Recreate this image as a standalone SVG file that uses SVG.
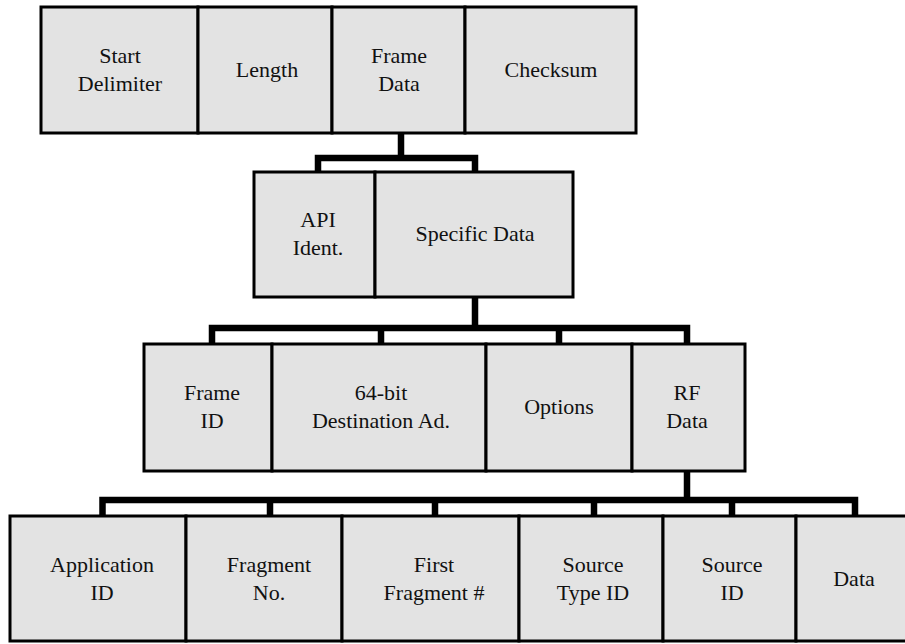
<svg xmlns="http://www.w3.org/2000/svg" width="905" height="644" viewBox="0 0 905 644">
  <style>
    .cell { fill: #e3e3e3; stroke: #000; stroke-width: 3; }
    .link { stroke: #000; stroke-width: 6.5; fill: none; stroke-linejoin: miter; stroke-linecap: butt; }
    .lbl { font-family: 'Liberation Serif', 'Times New Roman', serif; font-size: 22px; fill: #111; text-anchor: middle; }
  </style>
  <rect width="905" height="644" fill="#fff"/>

  <!-- connectors -->
  <g id="connectors">
    <path class="link" d="M401,134 V158 M318,171 V158 H475 V171"/>
    <path class="link" d="M475,298 V328 M212,343 V328 H687 V343 M381,328 V343 M559,328 V343"/>
    <path class="link" d="M687,472 V500 M102.5,515 V500 H855 V515 M270,500 V515 M435,500 V515 M594,500 V515 M732,500 V515"/>
  </g>

  <!-- level 1: API frame -->
  <g id="start-delimiter">
    <rect class="cell" x="41" y="7" width="157" height="126"/>
    <text class="lbl" x="120" y="63">Start</text>
    <text class="lbl" x="120" y="91">Delimiter</text>
  </g>
  <g id="length">
    <rect class="cell" x="198" y="7" width="134" height="126"/>
    <text class="lbl" x="267" y="77">Length</text>
  </g>
  <g id="frame-data">
    <rect class="cell" x="332" y="7" width="133" height="126"/>
    <text class="lbl" x="399" y="63">Frame</text>
    <text class="lbl" x="399" y="91">Data</text>
  </g>
  <g id="checksum">
    <rect class="cell" x="465" y="7" width="171" height="126"/>
    <text class="lbl" x="551" y="77">Checksum</text>
  </g>

  <!-- level 2: frame data -->
  <g id="api-ident">
    <rect class="cell" x="254" y="172" width="121" height="125"/>
    <text class="lbl" x="318" y="227">API</text>
    <text class="lbl" x="318" y="255">Ident.</text>
  </g>
  <g id="specific-data">
    <rect class="cell" x="375" y="172" width="198" height="125"/>
    <text class="lbl" x="475" y="241">Specific Data</text>
  </g>

  <!-- level 3: specific data -->
  <g id="frame-id">
    <rect class="cell" x="144" y="344" width="128" height="127"/>
    <text class="lbl" x="212" y="400">Frame</text>
    <text class="lbl" x="212" y="428">ID</text>
  </g>
  <g id="dest-address">
    <rect class="cell" x="272" y="344" width="214" height="127"/>
    <text class="lbl" x="381" y="400">64-bit</text>
    <text class="lbl" x="381" y="428">Destination Ad.</text>
  </g>
  <g id="options">
    <rect class="cell" x="486" y="344" width="146" height="127"/>
    <text class="lbl" x="559" y="414">Options</text>
  </g>
  <g id="rf-data">
    <rect class="cell" x="632" y="344" width="113" height="127"/>
    <text class="lbl" x="687" y="400">RF</text>
    <text class="lbl" x="687" y="428">Data</text>
  </g>

  <!-- level 4: RF data -->
  <g id="application-id">
    <rect class="cell" x="10" y="516" width="176" height="125"/>
    <text class="lbl" x="102" y="572">Application</text>
    <text class="lbl" x="102" y="600">ID</text>
  </g>
  <g id="fragment-no">
    <rect class="cell" x="186" y="516" width="156" height="125"/>
    <text class="lbl" x="269" y="572">Fragment</text>
    <text class="lbl" x="269" y="600">No.</text>
  </g>
  <g id="first-fragment">
    <rect class="cell" x="342" y="516" width="177" height="125"/>
    <text class="lbl" x="434" y="572">First</text>
    <text class="lbl" x="434" y="600">Fragment #</text>
  </g>
  <g id="source-type-id">
    <rect class="cell" x="519" y="516" width="144" height="125"/>
    <text class="lbl" x="593" y="572">Source</text>
    <text class="lbl" x="593" y="600">Type ID</text>
  </g>
  <g id="source-id">
    <rect class="cell" x="663" y="516" width="133" height="125"/>
    <text class="lbl" x="732" y="572">Source</text>
    <text class="lbl" x="732" y="600">ID</text>
  </g>
  <g id="data">
    <rect class="cell" x="796" y="516" width="112" height="125"/>
    <text class="lbl" x="854" y="586">Data</text>
  </g>
</svg>
